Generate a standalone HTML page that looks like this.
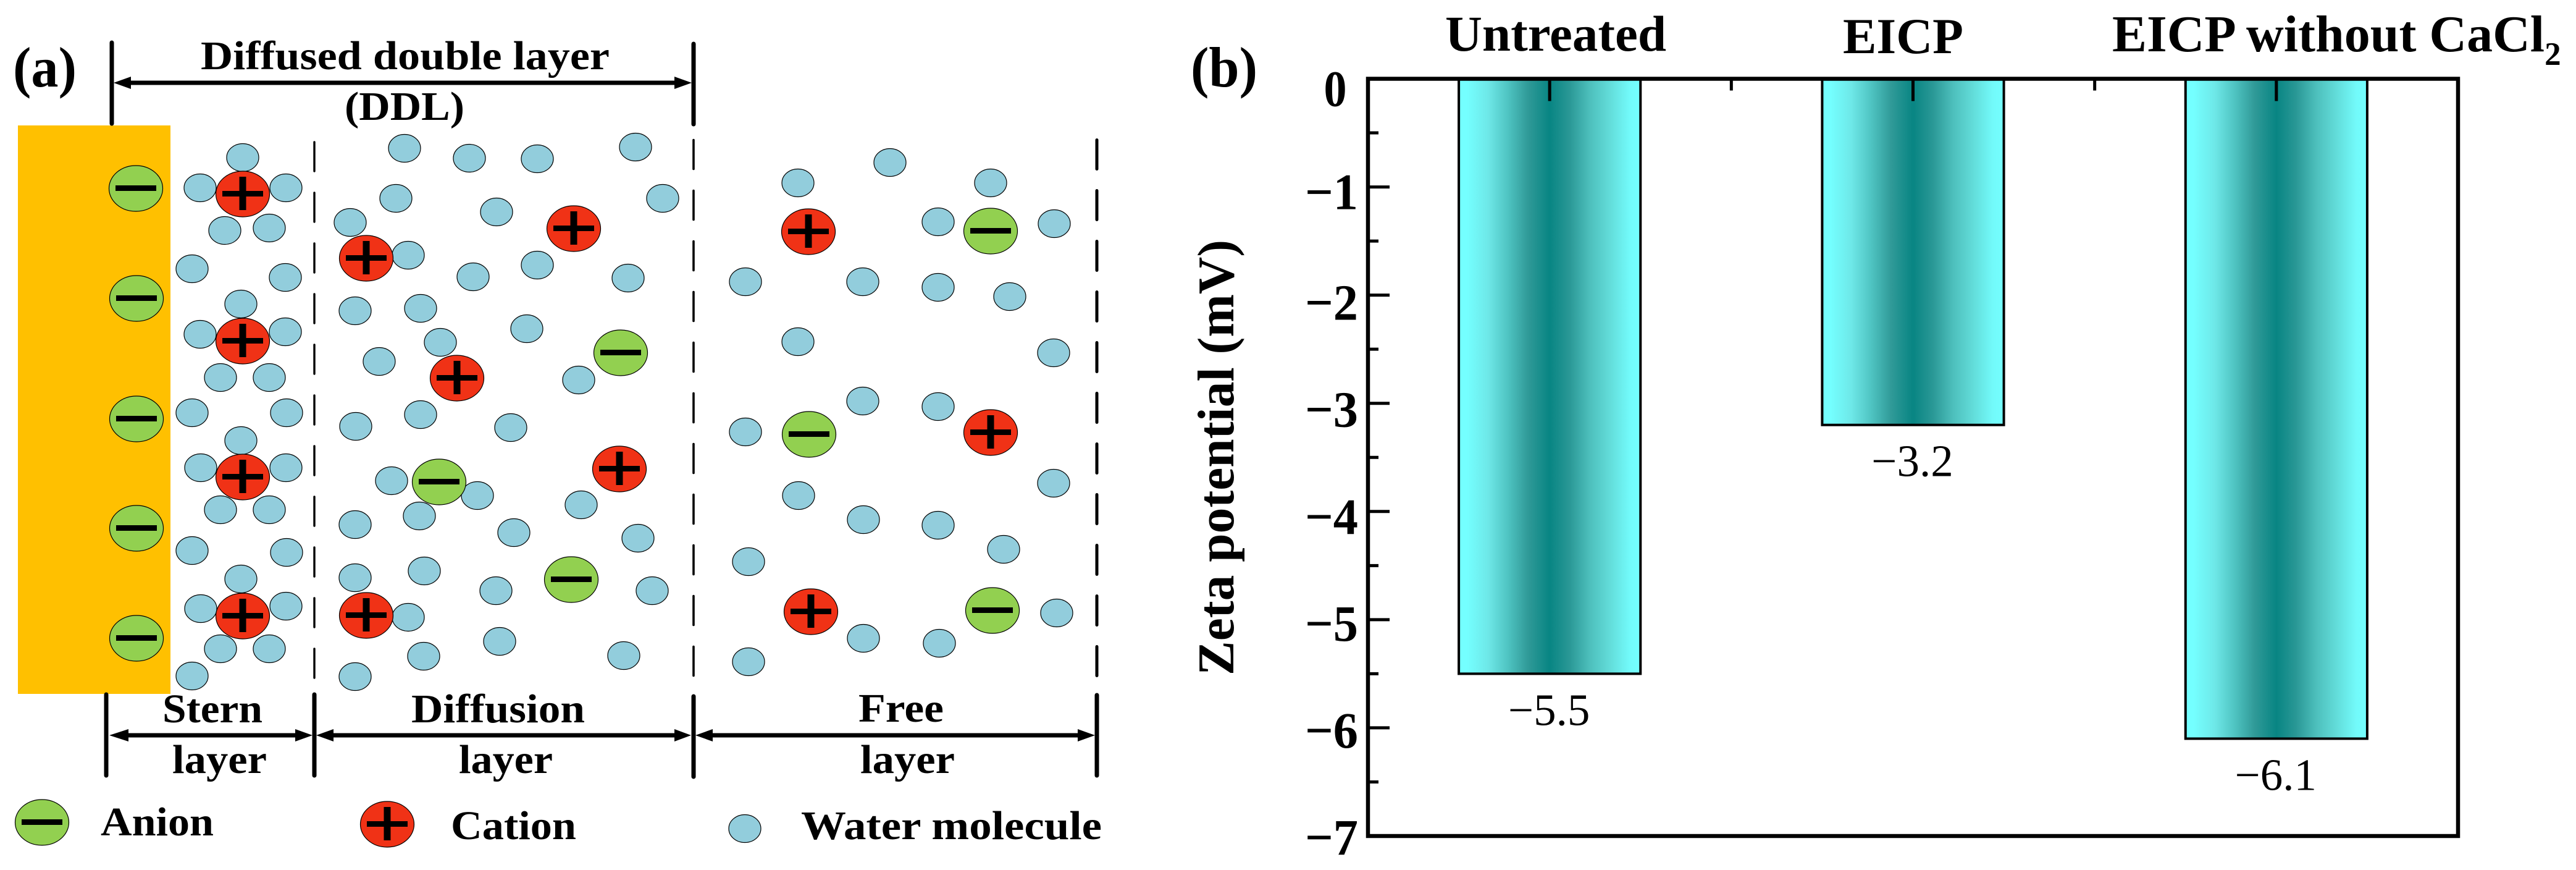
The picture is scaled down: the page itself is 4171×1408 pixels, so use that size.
<!DOCTYPE html>
<html lang="en">
<head>
<meta charset="utf-8">
<title>Electric double layer schematic and zeta potential chart</title>
<style>
html,body{margin:0;padding:0;background:#fff;}
svg{display:block;}
text{font-family:"Liberation Serif",serif;fill:#000;}
.b{font-weight:bold;}
.lab{font-weight:bold;font-size:66px;}
</style>
</head>
<body>
<svg id="figure" xmlns="http://www.w3.org/2000/svg" width="4171" height="1408" viewBox="0 0 4171 1408">
<defs>
<linearGradient id="barGrad" x1="0" y1="0" x2="1" y2="0">
<stop offset="0" stop-color="#74FFFF"/>
<stop offset="0.045" stop-color="#74FFFF"/>
<stop offset="0.16" stop-color="#6EE8E8"/>
<stop offset="0.27" stop-color="#4FC4C2"/>
<stop offset="0.38" stop-color="#309A98"/>
<stop offset="0.5" stop-color="#088583"/>
<stop offset="0.61" stop-color="#2A9896"/>
<stop offset="0.72" stop-color="#4DBFBC"/>
<stop offset="0.83" stop-color="#62DCD9"/>
<stop offset="0.94" stop-color="#72FAFA"/>
<stop offset="1" stop-color="#74FFFF"/>
</linearGradient>
</defs>
<rect x="0" y="0" width="4171" height="1408" fill="#fff"/>

<g id="panel-a">
<text class="b" x="21" y="140" font-size="92" textLength="103" lengthAdjust="spacingAndGlyphs">(a)</text>
<rect x="29" y="203" width="247" height="920" fill="#FFC000"/>

<g fill="none" stroke="#000" stroke-linecap="round">
<line x1="509" y1="230" x2="509" y2="1098" stroke-width="3.4" stroke-dasharray="47 35"/>
<line x1="1123" y1="226.5" x2="1123" y2="1096" stroke-width="3.6" stroke-dasharray="47 35"/>
<line x1="1776" y1="226.5" x2="1776" y2="1096" stroke-width="5" stroke-dasharray="47 35"/>
</g>

<g stroke="#000" stroke-linecap="round" stroke-width="7">
<line x1="181" y1="69" x2="181" y2="200"/>
<line x1="1123" y1="71" x2="1123" y2="201"/>
<line x1="172" y1="1124" x2="172" y2="1255"/>
<line x1="509" y1="1124" x2="509" y2="1255"/>
<line x1="1123" y1="1127" x2="1123" y2="1257"/>
<line x1="1776" y1="1125" x2="1776" y2="1255"/>
</g>

<g fill="#000">
<rect x="205" y="130.5" width="890" height="7"/>
<polygon points="184,134 212,124 212,144"/>
<polygon points="1120,134 1092,124 1092,144"/>
<rect x="205" y="1186.5" width="275" height="7"/>
<polygon points="177,1190 208,1180 208,1200"/>
<polygon points="506,1190 478,1180 478,1200"/>
<rect x="538" y="1186.5" width="556" height="7"/>
<polygon points="512,1190 540,1180 540,1200"/>
<polygon points="1119,1190 1092,1180 1092,1200"/>
<rect x="1152" y="1186.5" width="595" height="7"/>
<polygon points="1126,1190 1154,1180 1154,1200"/>
<polygon points="1773,1190 1745,1180 1745,1200"/>
</g>

<g id="water-molecules"></g>
<g id="cations"></g>
<g id="anions"></g>

<text class="lab" x="325" y="112" textLength="662" lengthAdjust="spacingAndGlyphs">Diffused double layer</text>
<text class="lab" x="558" y="194" textLength="194" lengthAdjust="spacingAndGlyphs">(DDL)</text>
<text class="lab" x="263" y="1169" textLength="162" lengthAdjust="spacingAndGlyphs">Stern</text>
<text class="lab" x="279" y="1251" textLength="153" lengthAdjust="spacingAndGlyphs">layer</text>
<text class="lab" x="666" y="1169" textLength="281" lengthAdjust="spacingAndGlyphs">Diffusion</text>
<text class="lab" x="743" y="1251" textLength="152" lengthAdjust="spacingAndGlyphs">layer</text>
<text class="lab" x="1390" y="1168" textLength="138" lengthAdjust="spacingAndGlyphs">Free</text>
<text class="lab" x="1393" y="1251" textLength="153" lengthAdjust="spacingAndGlyphs">layer</text>
<text class="lab" x="163" y="1352" textLength="183" lengthAdjust="spacingAndGlyphs">Anion</text>
<text class="lab" x="730" y="1358" textLength="203" lengthAdjust="spacingAndGlyphs">Cation</text>
<text class="lab" x="1297" y="1358" textLength="487" lengthAdjust="spacingAndGlyphs">Water molecule</text>
</g>

<g id="panel-b">
<text class="b" x="1928" y="140" font-size="92" textLength="108" lengthAdjust="spacingAndGlyphs">(b)</text>
<text class="b" transform="translate(1997,1093) rotate(-90)" x="0" y="0" font-size="84" textLength="705" lengthAdjust="spacingAndGlyphs">Zeta potential (mV)</text>
<text class="b" x="2340" y="82" font-size="82" textLength="358" lengthAdjust="spacingAndGlyphs">Untreated</text>
<text class="b" x="2984" y="86" font-size="82" textLength="195" lengthAdjust="spacingAndGlyphs">EICP</text>
<text class="b" x="3420" y="83" font-size="84">EICP without CaCl<tspan font-size="53" dy="22">2</tspan></text>
<g id="bars"></g>
<g id="value-labels"></g>
<g id="axes"></g>
</g>
</svg>

<script>
// Chart data (panel b)
const categories = ["Untreated", "EICP", "EICP without CaCl2"];
const zetaValues = [-5.5, -3.2, -6.1];
const yMajorTicks = [0, -1, -2, -3, -4, -5, -6, -7];
const yMinorTicks = [-0.5, -1.5, -2.5, -3.5, -4.5, -5.5, -6.5];
const yTickLabels = ["0", "\u22121", "\u22122", "\u22123", "\u22124", "\u22125", "\u22126", "\u22127"];

// Schematic layout (panel a): illustration placement, not chart data
const waterLayout = "393,255 324,304 463,304 364,373 436,369 311,435 462,449 390,492 324,541 462,537 357,611 436,611 311,668 464,668 390,713 325,757 463,757 357,825 436,825 311,891 464,894 390,937 325,985 463,981 357,1050 436,1050 311,1094 655,240 760,256 870,257 641,321 804,343 567,360 661,413 870,429 766,448 1017,450 575,503 681,499 853,532 713,554 614,585 937,615 681,671 576,690 827,692 1029,238 1073,321 634,778 773,802 679,835 575,849 832,862 941,817 687,924 575,935 803,956 661,999 809,1038 686,1062 575,1095 1010,1061 1033,871 1056,956 1292,296 1441,263 1604,296 1519,359 1707,362 1207,456 1397,456 1519,465 1635,480 1292,553 1706,571 1397,649 1519,658 1207,699 1293,802 1398,841 1519,850 1706,782 1625,889 1212,909 1398,1033 1521,1041 1711,992 1212,1071";
const cationLayout = "393,314 393,552 393,772 393,997 593,418 593,996 929,370 740,612 1003,759 1309,375 1604,700 1313,990";
const anionLayout = "220,305 221,483 221,678 221,855 221,1033 1005,571 711,780 925,938 1604,374 1310,703 1607,988";

const SVG_NS = "http://www.w3.org/2000/svg";
const plot = { left: 2215, right: 3980, top: 127.5, bottom: 1353 };
const yMin = -7;
const yMax = 0;
const barWidthUnits = 0.5;

function xScale(pos) {
  return plot.left + (pos + 0.5) * (plot.right - plot.left) / categories.length;
}
function yScale(v) {
  return plot.top + (yMax - v) * (plot.bottom - plot.top) / (yMax - yMin);
}
function make(tag, attrs) {
  const el = document.createElementNS(SVG_NS, tag);
  for (const k in attrs) el.setAttribute(k, attrs[k]);
  return el;
}
function minusText(v) {
  return v.toFixed(1).replace("-", "\u2212");
}
function signBar(parent, x, y, w, h) {
  const bar = make("rect", { x: x, y: y, width: w, height: h, fill: "#000" });
  
  
  parent.appendChild(bar);
}
function addWater(parent, x, y) {
  const el = make("ellipse", { cx: x, cy: y, rx: 26, ry: 22.5, fill: "#92CDDC", stroke: "#000", "stroke-width": 1.2 });
  
  
  parent.appendChild(el);
}
function addCation(parent, x, y) {
  const g = make("g", {});
  
  
  g.appendChild(make("ellipse", { cx: x, cy: y, rx: 43.5, ry: 37, fill: "#F03216", stroke: "#000", "stroke-width": 1.2 }));
  signBar(g, x - 33, y - 5, 66, 9);
  signBar(g, x - 5.5, y - 28, 11, 54);
  parent.appendChild(g);
}
function addAnion(parent, x, y) {
  const g = make("g", {});
  
  
  g.appendChild(make("ellipse", { cx: x, cy: y, rx: 43.5, ry: 37, fill: "#92D050", stroke: "#000", "stroke-width": 1.2 }));
  signBar(g, x - 33, y - 5, 66, 9);
  parent.appendChild(g);
}
function eachPoint(layout, fn) {
  layout.split(" ").forEach(function (pair) {
    const p = pair.split(",");
    fn(Number(p[0]), Number(p[1]));
  });
}

const waterGroup = document.getElementById("water-molecules");
const cationGroup = document.getElementById("cations");
const anionGroup = document.getElementById("anions");
eachPoint(waterLayout, function (x, y) { addWater(waterGroup, x, y); });
eachPoint(cationLayout, function (x, y) { addCation(cationGroup, x, y); });
eachPoint(anionLayout, function (x, y) { addAnion(anionGroup, x, y); });

// Legend icons
addAnion(anionGroup, 68, 1331);
addCation(cationGroup, 627, 1334);
addWater(waterGroup, 1206, 1341);

const barsGroup = document.getElementById("bars");
const valueGroup = document.getElementById("value-labels");
const axesGroup = document.getElementById("axes");
const bandWidth = (plot.right - plot.left) / categories.length;

categories.forEach(function (cat, i) {
  const v = zetaValues[i];
  const w = bandWidth * barWidthUnits;
  const bar = make("rect", {
    x: xScale(i) - w / 2,
    y: yScale(0),
    width: w,
    height: yScale(v) - yScale(0),
    fill: "url(#barGrad)",
    stroke: "#000",
    "stroke-width": 4
  });
  
  
  barsGroup.appendChild(bar);

  const label = make("text", {
    x: xScale(i) - 1,
    y: yScale(v) + 83,
    "font-size": 73,
    "text-anchor": "middle"
  });
  label.textContent = minusText(v);
  
  
  valueGroup.appendChild(label);

  const tick = make("line", {
    x1: xScale(i), x2: xScale(i),
    y1: plot.top, y2: plot.top + 36,
    stroke: "#000", "stroke-width": 5
  });
  
  
  axesGroup.appendChild(tick);

  if (i < categories.length - 1) {
    const minor = make("line", {
      x1: xScale(i + 0.5), x2: xScale(i + 0.5),
      y1: plot.top, y2: plot.top + 19,
      stroke: "#000", "stroke-width": 5
    });
    
    
    axesGroup.appendChild(minor);
  }
});

yMajorTicks.forEach(function (v, i) {
  const tick = make("line", {
    x1: plot.left, x2: plot.left + 35,
    y1: yScale(v), y2: yScale(v),
    stroke: "#000", "stroke-width": 5
  });
  
  
  axesGroup.appendChild(tick);

  const text = make("text", {
    x: v === 0 ? 2162 : 2156,
    y: yScale(v) + 44 + 2 * v + (v === -1 ? -6 : 0),
    "font-size": 83,
    "font-weight": "bold",
    "text-anchor": "middle",
    textLength: v === 0 ? 37 : 86,
    lengthAdjust: "spacingAndGlyphs"
  });
  text.textContent = yTickLabels[i];
  
  
  axesGroup.appendChild(text);
});

yMinorTicks.forEach(function (v) {
  const tick = make("line", {
    x1: plot.left, x2: plot.left + 17,
    y1: yScale(v), y2: yScale(v),
    stroke: "#000", "stroke-width": 5
  });
  
  
  axesGroup.appendChild(tick);
});

const frame = make("rect", {
  x: plot.left, y: plot.top,
  width: plot.right - plot.left,
  height: plot.bottom - plot.top,
  fill: "none", stroke: "#000", "stroke-width": 6.5
});


axesGroup.appendChild(frame);
</script>
</body>
</html>
